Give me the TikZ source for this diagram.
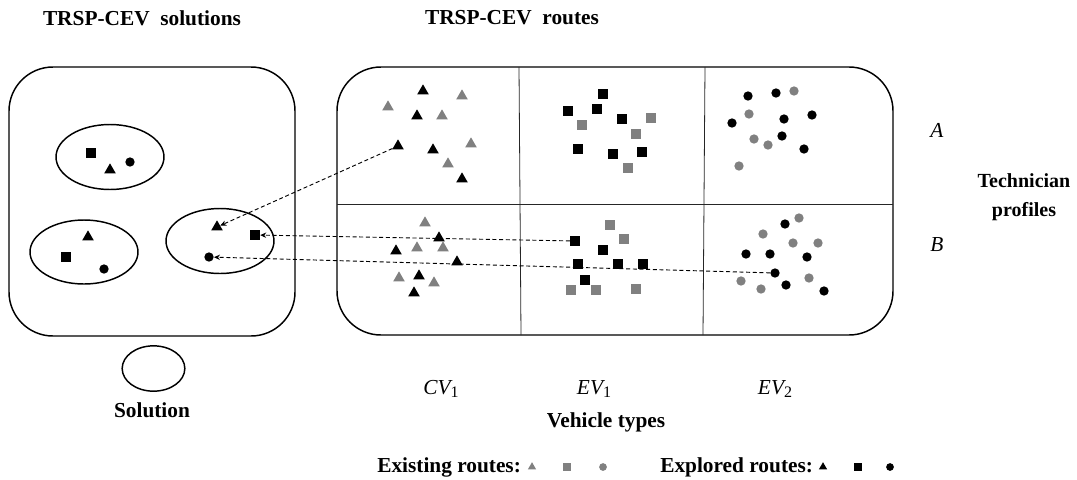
\documentclass[tikz,border=0pt]{standalone}
\usepackage{fontspec}
\setmainfont{Liberation Serif}
\usetikzlibrary{shapes.geometric,arrows.meta}
\definecolor{exgray}{HTML}{808080}
\begin{document}
\begin{tikzpicture}[x=0.75pt,y=-0.75pt,
  tri/.style={regular polygon,regular polygon sides=3,inner sep=0pt,minimum size=10pt,fill=#1},
  tri/.default=black,
  sq/.style={rectangle,inner sep=0pt,minimum size=7.4pt,fill=#1},
  sq/.default=black,
  dot/.style={circle,inner sep=0pt,minimum size=7pt,fill=#1},
  dot/.default=black,
  ltri/.style={regular polygon,regular polygon sides=3,inner sep=0pt,minimum size=7.2pt,fill=#1},
  lsq/.style={rectangle,inner sep=0pt,minimum size=5.6pt,fill=#1},
  ldot/.style={circle,inner sep=0pt,minimum size=5.8pt,fill=#1},
  box/.style={draw,line width=1.1pt,rounded corners=33pt},
  sol/.style={draw,ellipse,line width=1.1pt,inner sep=0pt},
  grid/.style={draw=black!85,line width=0.6pt},
  title/.style={font=\bfseries\fontsize{16}{18}\selectfont,inner sep=0pt},
  lab/.style={font=\itshape\fontsize{16}{18}\selectfont,inner sep=0pt},
  arr/.style={dashed,dash pattern=on 3pt off 2pt,line width=0.7pt,-{Stealth[length=4.5pt,width=4pt]}}
]
\path[use as bounding box] (0,0) rectangle (1077,479);

% titles
\node[title] (t1) at (142,18) {TRSP-CEV\ \ solutions};
\node[title] (t2) at (512,18) {TRSP-CEV\ \ routes};
\node[title,align=center,font=\bfseries\fontsize{15}{22}\selectfont] (t3) at (1024,197) {Technician\\profiles};
\node[lab] (la) at (937,130) {A};
\node[lab] (lb) at (937,245) {B};
\node[lab] (c1) at (441,389) {CV\raisebox{-0.3ex}{\upshape\fontsize{12}{12}\selectfont 1}};
\node[lab] (c2) at (594,389) {EV\raisebox{-0.3ex}{\upshape\fontsize{12}{12}\selectfont 1}};
\node[lab] (c3) at (775,389) {EV\raisebox{-0.3ex}{\upshape\fontsize{12}{12}\selectfont 2}};
\node[title] (vt) at (606,422) {Vehicle types};

% left box
\draw[box] (9,67) rectangle (295,336);
\node[sol,minimum width=81pt,minimum height=48.75pt] (s1) at (110,157) {};
\node[sol,minimum width=81pt,minimum height=48pt] (s2) at (84,252) {};
\node[sol,minimum width=81pt,minimum height=48.75pt] (s3) at (220,241) {};
\node[sq] (s1s) at (91,153) {};
\node[tri] (s1t) at (110,170) {};
\node[dot] (s1c) at (130,162) {};
\node[tri] (s2t) at (88,237) {};
\node[sq] (s2s) at (66,257) {};
\node[dot] (s2c) at (104,269) {};
\node[tri] (e3t) at (217,227) {};
\node[sq] (e3s) at (255,235) {};
\node[dot] (e3c) at (209,257) {};

% solution legend
\node[sol,minimum width=47pt,minimum height=34pt] (solk) at (153.5,368.5) {};
\node[title] (soltxt) at (152,410) {Solution};

% right box
\draw[box] (337,67) rectangle (893,335);
\draw[grid] (519,67) -- (521,335);
\draw[grid] (705,67) -- (703,335);
\draw[grid] (337,204) -- (893,204);

% CV1 top
\foreach \x/\y [count=\i] in {423/91,417/116,433/150,462/179}
  \node[tri] (ctb\i) at (\x,\y) {};
\node[tri] (srcT) at (398,146) {};
\foreach \x/\y [count=\i] in {388/107,462/96,442/116,471/144,448/164}
  \node[tri=exgray] (ctg\i) at (\x,\y) {};
% EV1 top
\foreach \x/\y [count=\i] in {603/94,568/111,597/109,622/119,578/149,613/154,642/152}
  \node[sq] (e1tb\i) at (\x,\y) {};
\foreach \x/\y [count=\i] in {582/125,651/118,636/134,628/168}
  \node[sq=exgray] (e1tg\i) at (\x,\y) {};
% EV2 top
\foreach \x/\y [count=\i] in {748/96,776/93,732/123,784/119,812/115,782/136,804/149}
  \node[dot] (e2tb\i) at (\x,\y) {};
\foreach \x/\y [count=\i] in {794/91,749/114,754/139,768/145,739/166}
  \node[dot=exgray] (e2tg\i) at (\x,\y) {};
% CV1 bottom
\foreach \x/\y [count=\i] in {425/223,417/248,443/248,399/278,434/283}
  \node[tri=exgray] (cbg\i) at (\x,\y) {};
\foreach \x/\y [count=\i] in {439/238,396/251,457/262,419/276,414/293}
  \node[tri] (cbb\i) at (\x,\y) {};
% EV1 bottom
\foreach \x/\y [count=\i] in {610/225,624/239,571/290,596/290,636/289}
  \node[sq=exgray] (e1bg\i) at (\x,\y) {};
\foreach \x/\y [count=\i] in {603/250,578/264,618/264,643/264,585/280}
  \node[sq] (e1bb\i) at (\x,\y) {};
\node[sq] (srcS) at (575,241) {};
% EV2 bottom
\foreach \x/\y [count=\i] in {799/218,763/234,793/243,818/243,741/281,761/289,809/278}
  \node[dot=exgray] (e2bg\i) at (\x,\y) {};
\foreach \x/\y [count=\i] in {785/224,746/254,770/254,807/257,786/285,824/291}
  \node[dot] (e2bb\i) at (\x,\y) {};
\node[dot] (srcC) at (775,273) {};

% arrows
\draw[arr] (srcT) -- (e3t);
\draw[arr] (srcS) -- (e3s);
\draw[arr] (srcC) -- (e3c);

% legend
\node[title,anchor=west] (lg1) at (377,467) {Existing routes:};
\node[ltri=exgray] (lg1t) at (532,467) {};
\node[lsq=exgray] (lg1s) at (567,467) {};
\node[ldot=exgray] (lg1c) at (603,467) {};
\node[title,anchor=west] (lg2) at (660,467) {Explored routes:};
\node[ltri=black] (lg2t) at (823,467) {};
\node[lsq=black] (lg2s) at (858,467) {};
\node[ldot=black] (lg2c) at (890,467) {};
\end{tikzpicture}
\end{document}
